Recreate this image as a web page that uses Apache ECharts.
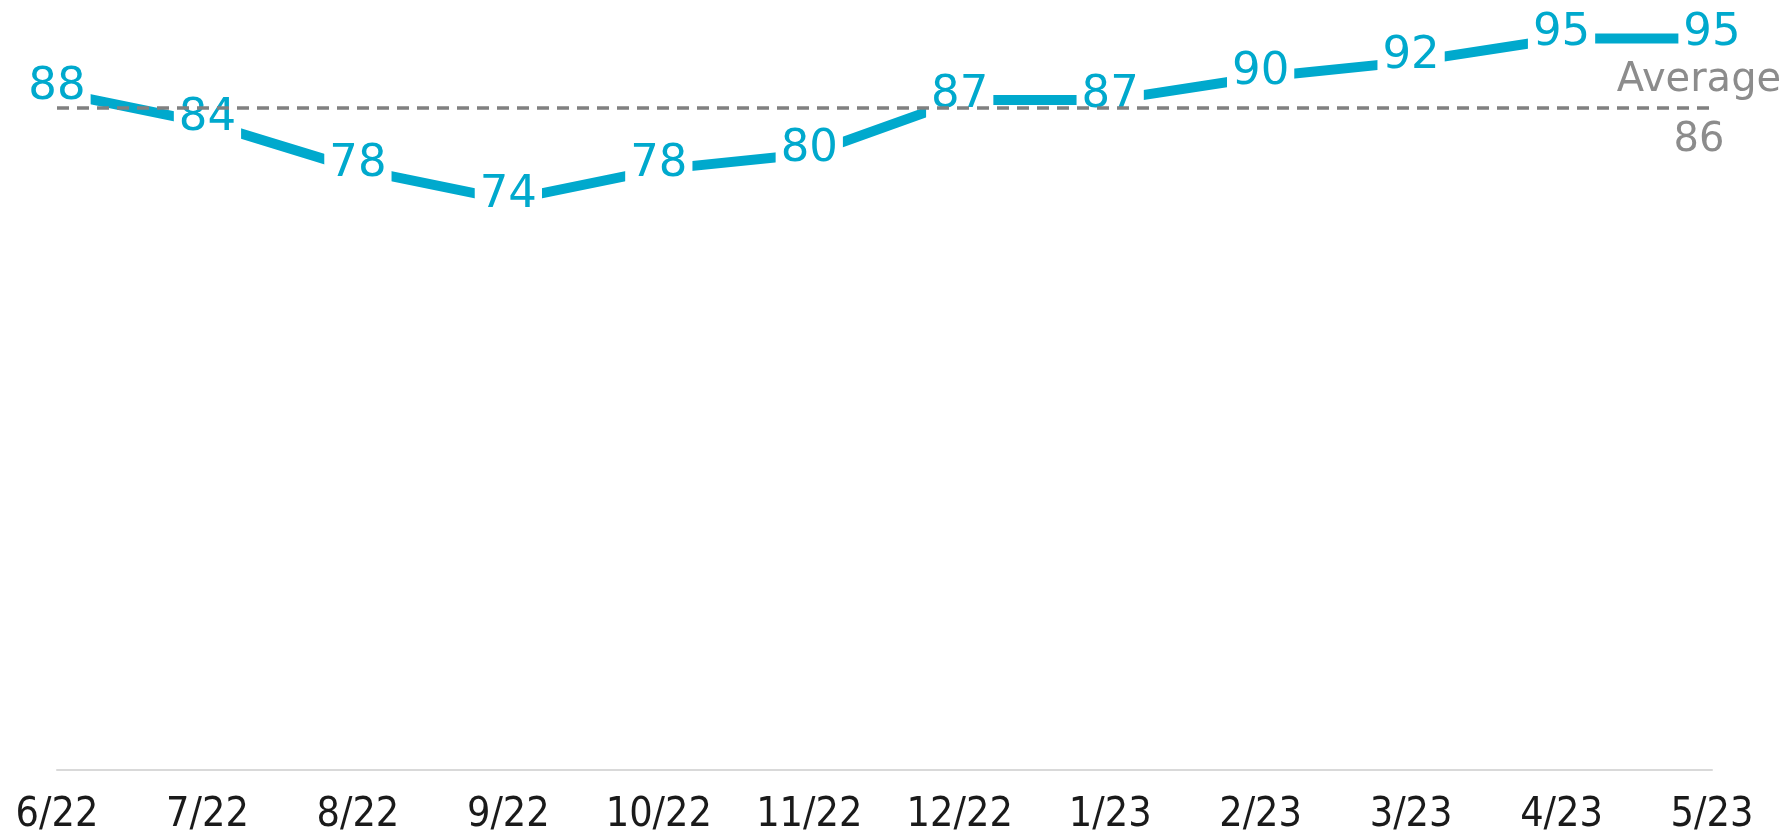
<!DOCTYPE html>
<html>
<head>
<meta charset="utf-8">
<script src="https://cdn.jsdelivr.net/npm/echarts@6/dist/echarts.min.js"></script>
<style>
  html, body { margin: 0; padding: 0; background: #fff; }
  #chart { width: 1791px; height: 836px; }
</style>
</head>
<body>
<div id="chart"></div>
<script>
var months = ["6/22", "7/22", "8/22", "9/22", "10/22", "11/22", "12/22", "1/23", "2/23", "3/23", "4/23", "5/23"];
var scores = [88, 84, 78, 74, 78, 80, 87, 87, 90, 92, 95, 95];
var avgValue = 86;
var avgName = "Average";

var blue = "#00A9CD";
var grey = "#808080";

var option = {
  animation: false,
  grid: { left: 57, right: 79, top: -13, bottom: 63 },
  xAxis: {
    type: "category",
    data: months,
    boundaryGap: false,
    axisLine: { lineStyle: { color: "#d9d9d9", width: 2 } },
    axisTick: { show: false },
    axisLabel: {
      color: "#1a1a1a",
      fontFamily: "DejaVu Sans Condensed",
      fontSize: 41,
      margin: 25
    }
  },
  yAxis: {
    type: "value",
    min: 0,
    max: 100,
    show: false,
    splitLine: { show: false }
  },
  series: [
    {
      // average line under the main series
      type: "line",
      data: [],
      z: 1,
      markLine: {
        silent: true,
        symbol: "none",
        lineStyle: { color: grey, width: 3.5, type: [12, 8] },
        label: { show: false },
        data: [{ yAxis: avgValue }]
      },
      markPoint: {
        silent: true,
        symbol: "circle",
        symbolSize: 0,
        label: {
          show: true,
          position: "inside",
          offset: [-13, 3],
          color: "#8c8c8c",
          fontFamily: "DejaVu Sans",
          fontSize: 40,
          lineHeight: 30,
          formatter: avgName + "\n\n" + avgValue
        },
        data: [{ coord: [months[months.length - 1], avgValue] }]
      }
    },
    {
      type: "line",
      data: scores,
      z: 3,
      symbol: "circle",
      symbolSize: 2,
      itemStyle: { color: blue },
      lineStyle: { color: blue, width: 10 },
      label: {
        show: true,
        position: "inside",
        offset: [0, -5],
        color: blue,
        fontFamily: "DejaVu Sans",
        fontSize: 45,
        backgroundColor: "#fff",
        padding: [8, 5, 3, 5]
      }
    }
  ]
};

var myChart = echarts.init(document.getElementById("chart"));
myChart.setOption(option);
</script>
</body>
</html>
